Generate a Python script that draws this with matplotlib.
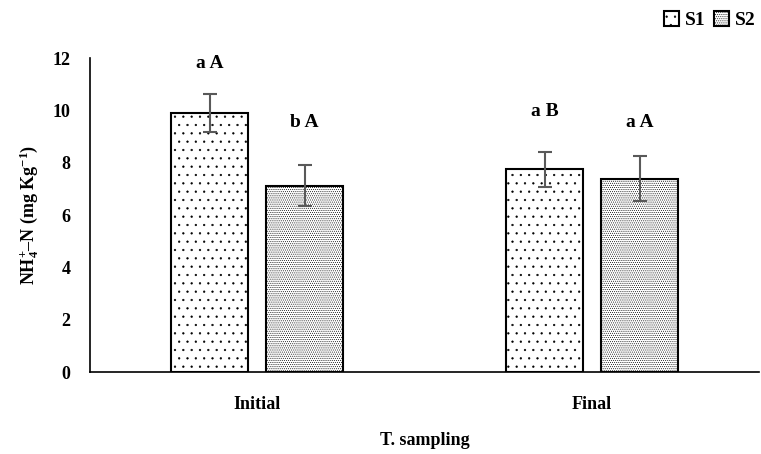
import numpy as np
import matplotlib.pyplot as plt

plt.rcParams['font.family'] = ['Liberation Serif', 'DejaVu Serif']
plt.rcParams['font.weight'] = 'bold'
plt.rcParams['mathtext.fontset'] = 'custom'
plt.rcParams['mathtext.rm'] = 'Liberation Serif:bold'
plt.rcParams['mathtext.it'] = 'Liberation Serif:italic:bold'
plt.rcParams['mathtext.bf'] = 'Liberation Serif:bold'
plt.rcParams['mathtext.default'] = 'rm'
plt.rcParams['hatch.linewidth'] = 0.4

# data
categories = ['Initial', 'Final']
s1_values = [9.9, 7.75]
s1_errors = [0.72, 0.68]
s2_values = [7.12, 7.4]
s2_errors = [0.78, 0.85]
s1_letters = ['a A', 'a B']
s2_letters = ['b A', 'a A']
s1_letter_y = [11.8, 9.95]
s2_letter_y = [9.55, 9.55]

fig = plt.figure(figsize=(7.61, 4.54), dpi=100)
ax = fig.add_axes([0.118, 0.18, 0.88, 0.692])

x = np.arange(len(categories))
w = 0.23
off = 0.142

b1 = ax.bar(x - off, s1_values, w, color='white', edgecolor='black',
            linewidth=1.5, hatch='..', label='S1')
b2 = ax.bar(x + off, s2_values, w, color='white', edgecolor='black',
            linewidth=1.5, hatch='........', label='S2')
ax.errorbar(x - off, s1_values, yerr=s1_errors, fmt='none', ecolor='#595959',
            elinewidth=1.5, capsize=5, capthick=1.5)
ax.errorbar(x + off, s2_values, yerr=s2_errors, fmt='none', ecolor='#595959',
            elinewidth=1.5, capsize=5, capthick=1.5)

for i in range(len(categories)):
    ax.text(x[i] - off, s1_letter_y[i], s1_letters[i],
            ha='center', va='center', fontsize=14, fontweight='bold')
    ax.text(x[i] + off, s2_letter_y[i], s2_letters[i],
            ha='center', va='center', fontsize=14, fontweight='bold')

ax.set_xlim(-0.5, 1.5)
ax.set_ylim(0, 12)
ax.set_yticks(range(0, 13, 2))
ax.set_xticks(x)
ax.set_xticklabels(categories)
ax.tick_params(axis='x', length=0, labelsize=13, pad=17)
ax.tick_params(axis='y', length=0, labelsize=13, pad=14)
for lab in ax.get_xticklabels() + ax.get_yticklabels():
    lab.set_fontweight('bold')
ax.spines['top'].set_visible(False)
ax.spines['right'].set_visible(False)
ax.spines['left'].set_linewidth(1.2)
ax.spines['bottom'].set_linewidth(1.2)

ax.set_ylabel(r'NH$_4^{+}$–N (mg Kg$^{-1}$)', fontsize=13, fontweight='bold',
              labelpad=8)
ax.set_xlabel('T. sampling', fontsize=13, fontweight='bold', labelpad=14)

fig.legend(handles=[b1, b2], loc='upper right', bbox_to_anchor=(1.016, 1.015),
           ncol=2, frameon=False, fontsize=14, handlelength=0.8,
           handleheight=0.8, columnspacing=0.4, handletextpad=0.3)

fig.savefig('out.png', dpi=100)
